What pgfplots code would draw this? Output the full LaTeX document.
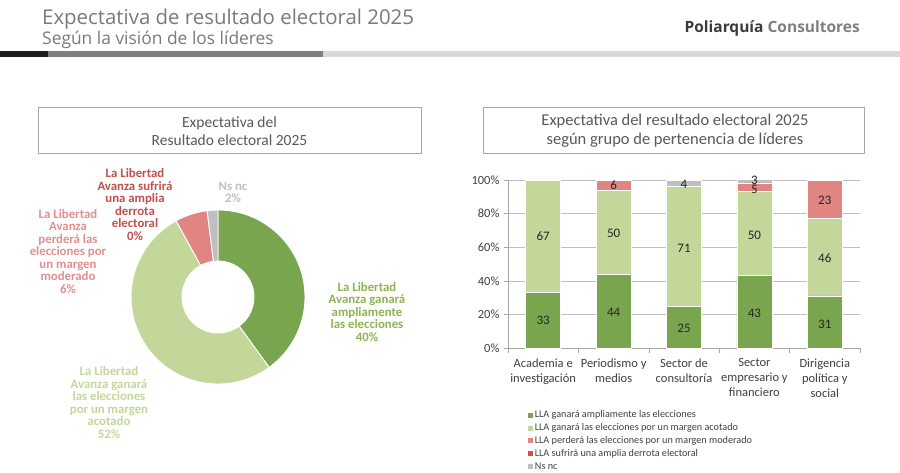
\documentclass[border=0pt]{standalone}
\usepackage{fontspec}
\setmainfont{Carlito}
\newfontfamily\osans{Open Sans}
\usepackage{pgfplots}
\usepackage{pgfplotstable}
\pgfplotsset{compat=1.18}

\definecolor{dgreen}{HTML}{79A54F}
\definecolor{lgreen}{HTML}{C4D79B}
\definecolor{pinkc}{HTML}{E08582}
\definecolor{redc}{HTML}{C9504E}
\definecolor{ngray}{HTML}{BFBFBF}
\definecolor{dglab}{HTML}{8DB454}
\definecolor{pklab}{HTML}{E0908E}
\definecolor{rdlab}{HTML}{C0504D}
\definecolor{titgray}{HTML}{7A7A7A}
\definecolor{boxgray}{HTML}{A6A6A6}
\definecolor{boxtext}{HTML}{595959}
\definecolor{ticktext}{HTML}{404040}
\definecolor{gridc}{HTML}{BFBFBF}
\definecolor{polidark}{HTML}{3A3A3A}
\definecolor{polilight}{HTML}{7F7F7F}

% donut data: share in percent
\pgfplotstableread{
label value
ampliamente 40
acotado 52
moderado 6
derrota 0
nsnc 2
}\donutdata

% stacked bars: 0 Academia, 1 Periodismo, 2 Consultoria, 3 Empresario, 4 Dirigencia
\pgfplotstableread{
x g1 g2 p r n
0 33 67 0 0 0
1 44 50 6 0 0
2 25 71 0 0 4
3 43 50 5 0 3
4 31 46 23 0 0
}\bars

\pgfplotstableread{
x y lab
0 16.5 33
0 66.5 67
1 21 44
1 68 50
1 97 6
2 11.5 25
2 59.5 71
2 97.5 4
3 20.5 43
3 67 50
3 94.5 5
3 99.8 3
4 14 31
4 53.5 46
4 88 23
}\barlabels

\newcommand\slice[3]{%
  \pgfmathsetmacro\sa{90-3.6*#1}%
  \pgfmathsetmacro\ea{90-3.6*#2}%
  \edef\temp{\noexpand\fill[#3, draw=white, line width=0.9pt]
    (axis cs:{87*cos(\sa)},{87*sin(\sa)})
    arc[start angle=\sa, end angle=\ea, radius=87pt]
    -- (axis cs:{36*cos(\ea)},{36*sin(\ea)})
    arc[start angle=\ea, end angle=\sa, radius=36pt] -- cycle;}%
  \temp}

\begin{document}
\begin{tikzpicture}[x=1pt,y=1pt]
\useasboundingbox (0,0) rectangle (900,-473);
\fill[white] (0,0) rectangle (900,-473);

% header
\node[anchor=base west, inner sep=0, font=\osans\fontsize{20.4}{20.4}\selectfont, text=titgray] at (42,-25) {Expectativa de resultado electoral 2025};
\node[anchor=base west, inner sep=0, font=\osans\fontsize{17.4}{17.4}\selectfont, text=titgray] at (42,-45) {Según la visión de los líderes};
\node[anchor=base east, inner sep=0, font=\osans\bfseries\fontsize{15.5}{15.5}\selectfont] at (860,-33) {\textcolor{polidark}{Poliarquía} \textcolor{polilight}{Consultores}};
\fill[black!88] (0,-51) rectangle (48,-57);
\fill[polilight] (48,-51) rectangle (323,-57);
\fill[black!15] (323,-51) rectangle (900,-57);

% boxes
\draw[boxgray, line width=0.7pt] (38,-107) rectangle (421,-153);
\node[align=center, inner sep=0, font=\fontsize{15.5}{18.5}\selectfont, text=boxtext] at (229.5,-131) {Expectativa del\\Resultado electoral 2025};
\draw[boxgray, line width=0.7pt] (483,-107) rectangle (864,-153);
\node[align=center, inner sep=0, font=\fontsize{16.5}{19}\selectfont, text=boxtext] at (675,-131) {Expectativa del resultado electoral 2025\\según grupo de pertenencia de líderes};

% donut
\begin{axis}[at={(218pt,-297pt)}, anchor=center, x=1pt, y=1pt, scale only axis,
  xmin=-100, xmax=100, ymin=-100, ymax=100, hide axis, clip=false]
  \slice{0}{40}{dgreen}
  \slice{40}{92}{lgreen}
  \slice{92}{98}{pinkc}
  \slice{98}{100}{ngray}
\end{axis}

% donut labels
\begin{scope}[every node/.style={align=center, inner sep=0, font=\bfseries\fontsize{12.8}{12.5}\selectfont}]
\node[text=dglab] at (367,-312) {La Libertad\\Avanza ganará\\ampliamente\\las elecciones\\40\%};
\node[text=lgreen] at (109,-402.5) {La Libertad\\Avanza ganará\\las elecciones\\por un  margen\\acotado\\52\%};
\node[text=pklab] at (68,-251.5) {La Libertad\\Avanza\\perderá las\\elecciones por\\un margen\\moderado\\6\%};
\node[text=rdlab] at (135,-204.5) {La Libertad\\Avanza sufrirá\\una amplia\\derrota\\electoral\\0\%};
\node[text=ngray] at (233,-192.5) {Ns nc\\2\%};
\end{scope}

% stacked bars
\begin{axis}[at={(508pt,-348pt)}, anchor=south west, scale only axis,
  width=352pt, height=168pt,
  ybar stacked, bar width=35pt,
  xmin=-0.5, xmax=4.5, ymin=0, ymax=100,
  axis x line*=bottom, axis y line*=left,
  axis line style={boxgray, line width=0.6pt},
  ymajorgrids, grid style={gridc, line width=0.6pt},
  ytick={0,20,40,60,80,100},
  yticklabel={\pgfmathprintnumber{\tick}\%},
  /pgf/number format/assume math mode=true,
  yticklabel style={font=\fontsize{12.5}{12.5}\selectfont, text=ticktext, xshift=-1pt},
  xtick={0,1,2,3,4},
  xticklabels={{Academia e\\investigación},{Periodismo y\\medios},{Sector de\\consultoría},{Sector\\empresario y\\financiero},{Dirigencia\\política y\\social}},
  xticklabel style={align=center, font=\fontsize{12.5}{15}\selectfont, text=ticktext, yshift=-3pt},
  major x tick style={draw=none},
  minor xtick={-0.5,0.5,1.5,2.5,3.5,4.5},
  minor x tick style={boxgray, line width=0.6pt},
  y tick style={boxgray, line width=0.6pt},
  tick align=outside, major tick length=4pt, minor tick length=5pt,
  legend style={at={(0.056,-0.36)}, anchor=north west, draw=none, fill=none,
    inner sep=0pt, row sep=0pt, font=\fontsize{10.2}{10.2}\selectfont, text=ticktext,
    nodes={text height=7.4pt, text depth=2.4pt, inner ysep=1.55pt, inner xsep=2pt}},
  legend cell align=left,
  legend image code/.code={\fill[#1, draw=none] (0pt,-2.5pt) rectangle (5pt,2.5pt);},
]
\addplot[fill=dgreen, draw=white, line width=0.6pt] table[x=x, y=g1]{\bars};
\addplot[fill=lgreen, draw=white, line width=0.6pt] table[x=x, y=g2]{\bars};
\addplot[fill=pinkc, draw=white, line width=0.6pt] table[x=x, y=p]{\bars};
\addplot[fill=redc, draw=white, line width=0.6pt] table[x=x, y=r]{\bars};
\addplot[fill=ngray, draw=white, line width=0.6pt] table[x=x, y=n]{\bars};
\legend{LLA ganará ampliamente  las elecciones, LLA ganará las elecciones por un margen acotado, LLA perderá las elecciones por un margen moderado, LLA sufrirá una amplia  derrota electoral, Ns nc}
\end{axis}

% bar value labels
\begin{axis}[at={(508pt,-348pt)}, anchor=south west, scale only axis,
  width=352pt, height=168pt, xmin=-0.5, xmax=4.5, ymin=0, ymax=100,
  hide axis, clip=false]
\addplot[only marks, mark=*, mark size=0.01pt, mark options={draw=none, fill=none},
  nodes near coords, point meta=explicit symbolic,
  every node near coord/.style={anchor=center, inner sep=0pt, font=\fontsize{13}{13}\selectfont, text=black!85}]
  table[x=x, y=y, meta=lab]{\barlabels};
\end{axis}
\end{tikzpicture}
\end{document}
